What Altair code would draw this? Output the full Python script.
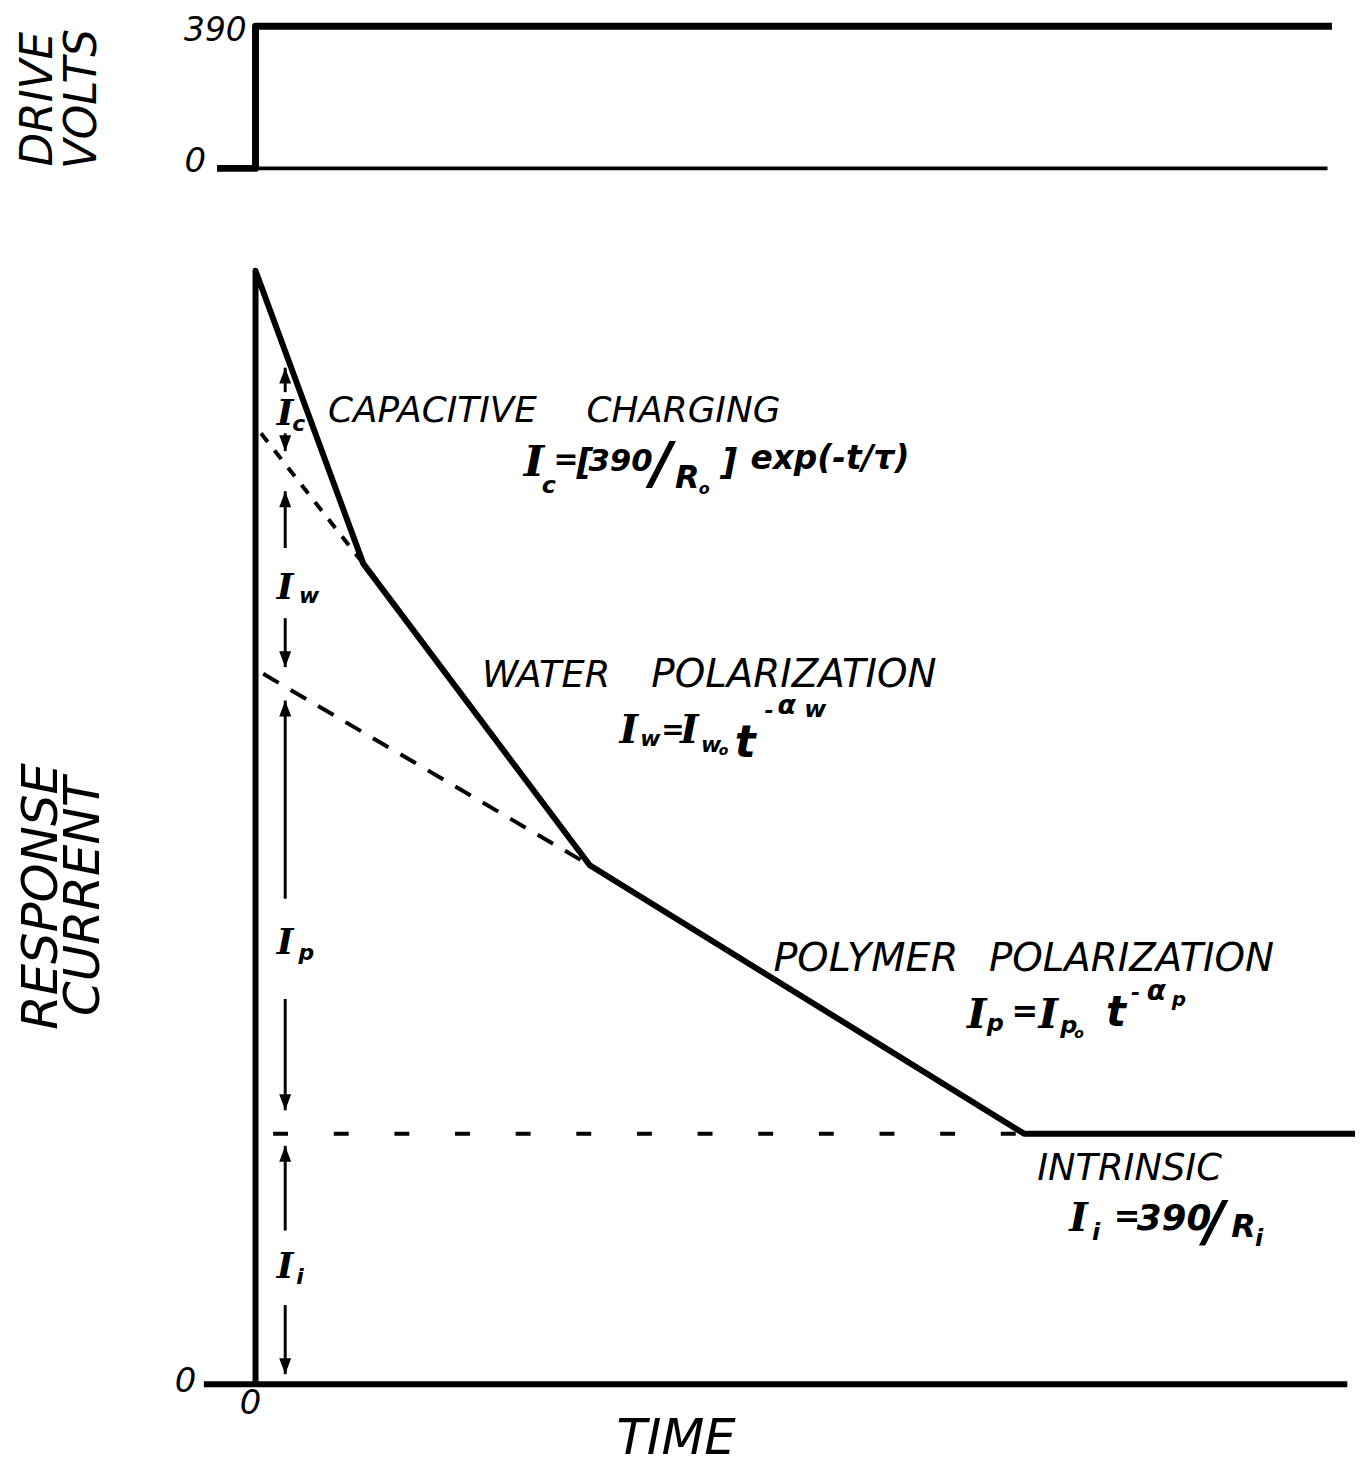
import altair as alt
import pandas as pd

# ---------------- data (time in arbitrary units 0..100, current in arbitrary units 0..100) ----
drive_t = [-3.5, 0.0, 0.0, 97.9]
drive_v = [0, 0, 390, 390]
zero_t = [-3.5, 97.5]
zero_v = [0, 0]

resp_t = [0.0, 0.0, 9.8, 30.4, 69.9, 100.0]
resp_i = [0.0, 100.0, 73.7, 46.6, 22.5, 22.5]
base_t = [-4.7, 99.3]
base_i = [0, 0]

cap_t = [0.5, 9.8]
cap_i = [85.4, 73.7]
wat_t = [0.7, 30.4]
wat_i = [63.8, 46.6]
int_t = [1.6, 69.9]
int_i = [22.5, 22.5]

comp = ["c", "w", "p", "i"]
arrow_t = 2.7
up_tail = [89.1, 75.1, 43.6, 13.8]
up_tip = [91.3, 80.2, 61.4, 21.4]
dn_tail = [85.4, 68.8, 34.6, 7.1]
dn_tip = [83.8, 64.4, 24.6, 0.9]
comp_lab_i = [87.1, 71.5, 39.6, 10.5]
comp_sub_i = [86.2, 70.8, 38.7, 9.6]
comp_sub_t = [3.35, 3.95, 3.9, 3.7]

sec_text = ["CAPACITIVE", "CHARGING", "WATER", "POLARIZATION", "POLYMER", "POLARIZATION", "INTRINSIC"]
sec_t = [6.6, 30.1, 20.6, 36.0, 47.1, 66.7, 71.1]
sec_i = [86.4, 86.4, 62.6, 62.6, 37.1, 37.1, 18.3]
sec_size = [36, 36, 37, 39, 40, 39, 37]

# formula anchors (time, current) and their pieces: (text, dx px, dy px, size, family)
f_anchor = [(24.4, 82.0), (33.1, 57.6), (64.7, 32.0), (74.0, 13.8)]
f_pieces = [
    [("I", 0, 5, 44, "serif"), ("c", 18, 22, 24, "sans"), ("=", 30, -2, 30, "sans"),
     ("[", 53, 3, 36, "sans"), ("390", 65, 0, 31, "sans"), ("/", 128, 12, 58, "sans"),
     ("R", 152, 17, 32, "sans"), ("o", 176, 23, 16, "sans"), ("]", 198, 3, 36, "sans"),
     ("exp(-t/τ)", 228, -2, 33, "sans")],
    [("I", 0, 0, 40, "serif"), ("w", 21, 3, 22, "sans"), ("=", 42, -4, 28, "sans"),
     ("I", 61, 0, 40, "serif"), ("w", 82, 9, 22, "sans"), ("o", 100, 12, 14, "sans"),
     ("t", 116, 14, 44, "sans"), ("-", 146, -25, 22, "sans"), ("α", 159, -29, 27, "sans"),
     ("w", 186, -26, 24, "sans")],
    [("I", 0, 0, 42, "serif"), ("p", 20, 3, 24, "sans"), ("=", 45, -6, 32, "sans"),
     ("I", 72, 0, 42, "serif"), ("p", 94, 5, 24, "sans"), ("o", 108, 10, 14, "sans"),
     ("t", 140, -2, 42, "sans"), ("-", 165, -28, 22, "sans"), ("α", 181, -28, 28, "sans"),
     ("p", 206, -22, 20, "sans")],
    [("I", 0, 0, 40, "serif"), ("i", 23, 10, 24, "sans"), ("=", 45, -4, 32, "sans"),
     ("390", 68, -1, 36, "sans"), ("/", 136, 10, 56, "sans"), ("R", 163, 7, 32, "sans"),
     ("i", 187, 16, 24, "sans")],
]

# ---------------- scales ----------------
X = alt.Scale(domain=[0, 100], range=[249, 1355])
YI = alt.Scale(domain=[0, 100], range=[1380, 260])
YV = alt.Scale(domain=[0, 390], range=[157, 14])
PX_T = (1355 - 249) / 100.0
PX_I = (1380 - 260) / 100.0

SANS = "DejaVu Sans"
SERIF = "DejaVu Serif"


def line_layer(ts, vals, yscale, width, dash=None):
    df = pd.DataFrame({"t": ts, "y": vals, "k": list(range(len(ts)))})
    kw = dict(color="black", strokeWidth=width, strokeCap="butt", strokeJoin="round")
    if dash:
        kw["strokeDash"] = dash
    return alt.Chart(df).mark_line(**kw).encode(
        x=alt.X("t:Q", scale=X, axis=None),
        y=alt.Y("y:Q", scale=yscale, axis=None),
        order="k:Q",
    )


def text_layer(df, yscale, font, align="left", baseline="alphabetic", weight="normal", angle=0):
    return alt.Chart(df).mark_text(
        font=font, fontStyle="italic", fontWeight=weight, align=align,
        baseline=baseline, color="black", angle=angle,
    ).encode(
        x=alt.X("t:Q", scale=X, axis=None),
        y=alt.Y("y:Q", scale=yscale, axis=None),
        text=alt.Text("text:N"),
        size=alt.Size("size:Q", scale=None),
    )


layers = []

# drive volts panel
layers.append(line_layer(zero_t, zero_v, YV, 4))
layers.append(line_layer(drive_t, drive_v, YV, 7))

# response current panel
layers.append(line_layer(base_t, base_i, YI, 6))
layers.append(line_layer(resp_t, resp_i, YI, 6))
layers.append(line_layer(cap_t, cap_i, YI, 4, [11, 11]))
layers.append(line_layer(wat_t, wat_i, YI, 4, [18, 14]))
layers.append(line_layer(int_t, int_i, YI, 4, [15, 46]))

# component arrows
arr = pd.DataFrame({
    "comp": comp,
    "t": [arrow_t] * 4,
    "up_tail": up_tail, "up_tip": up_tip,
    "dn_tail": dn_tail, "dn_tip": dn_tip,
})
for a, b in [("up_tail", "up_tip"), ("dn_tail", "dn_tip")]:
    layers.append(alt.Chart(arr).mark_rule(color="black", strokeWidth=3).encode(
        x=alt.X("t:Q", scale=X, axis=None),
        y=alt.Y(f"{a}:Q", scale=YI, axis=None),
        y2=f"{b}:Q",
    ))
UP = "M0,0 L0.75,2 L-0.75,2 Z"
DN = "M0,0 L0.75,-2 L-0.75,-2 Z"
for tip, shp in [("up_tip", UP), ("dn_tip", DN)]:
    layers.append(alt.Chart(arr).mark_point(
        shape=shp, filled=True, color="black", opacity=1, size=256, strokeWidth=0
    ).encode(
        x=alt.X("t:Q", scale=X, axis=None),
        y=alt.Y(f"{tip}:Q", scale=YI, axis=None),
    ))

# component labels  I_c, I_w, I_p, I_i
lab_I = pd.DataFrame({"t": [arrow_t] * 4, "y": comp_lab_i, "text": ["I"] * 4, "size": [36] * 4})
lab_s = pd.DataFrame({"t": comp_sub_t, "y": comp_sub_i, "text": comp, "size": [22] * 4})
layers.append(text_layer(lab_I, YI, SERIF, align="center", baseline="middle", weight="bold"))
layers.append(text_layer(lab_s, YI, SANS, align="left", baseline="middle", weight="bold"))

# section labels
sec = pd.DataFrame({"t": sec_t, "y": sec_i, "text": sec_text, "size": sec_size})
layers.append(text_layer(sec, YI, SANS))

# formulas
rows = []
for (at, ai), pieces in zip(f_anchor, f_pieces):
    for txt, dx, dy, sz, fam in pieces:
        rows.append({"t": at + dx / PX_T, "y": ai - dy / PX_I, "text": txt, "size": sz, "fam": fam})
fdf = pd.DataFrame(rows)
layers.append(text_layer(fdf[fdf.fam == "serif"], YI, SERIF, weight="bold"))
layers.append(text_layer(fdf[fdf.fam == "sans"], YI, SANS, weight="bold"))

# axis numbers and titles
volt_nums = pd.DataFrame({"t": [-0.8, -4.5], "y": [376, 16], "text": ["390", "0"], "size": [33, 34]})
layers.append(text_layer(volt_nums, YV, SANS, align="right", baseline="middle"))
cur_zero = pd.DataFrame({"t": [-5.4], "y": [0.2], "text": ["0"], "size": [34]})
layers.append(text_layer(cur_zero, YI, SANS, align="right", baseline="middle"))
x_zero = pd.DataFrame({"t": [-0.45], "y": [-2.7], "text": ["0"], "size": [34]})
layers.append(text_layer(x_zero, YI, SANS, align="center", baseline="alphabetic"))
time_lab = pd.DataFrame({"t": [38.25], "y": [-4.9], "text": ["TIME"], "size": [50]})
layers.append(text_layer(time_lab, YI, SANS, align="center", baseline="middle"))

v_titles = pd.DataFrame({"t": [-19.7, -15.7], "y": [190, 190], "text": ["DRIVE", "VOLTS"], "size": [44, 44]})
layers.append(text_layer(v_titles, YV, SANS, align="center", baseline="middle", angle=270))
i_titles = pd.DataFrame({"t": [-19.4, -15.6], "y": [43.8, 43.8], "text": ["RESPONSE", "CURRENT"], "size": [50, 50]})
layers.append(text_layer(i_titles, YI, SANS, align="center", baseline="middle", angle=270))

chart = alt.layer(*layers).resolve_scale(y="independent").properties(
    width=1355, height=1460, padding=0, autosize="none", background="white"
).configure_view(stroke=None)

chart.save("out.html", embed_options={"renderer": "svg", "actions": False})
